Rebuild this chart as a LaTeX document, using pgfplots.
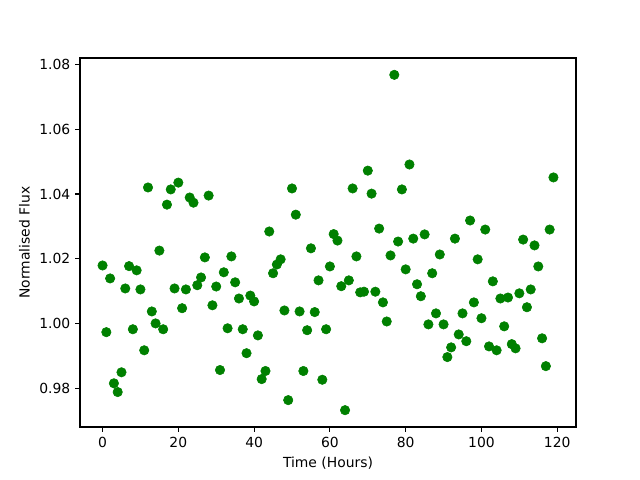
\documentclass[border=0pt]{standalone}
\usepackage{fontspec}
\setmainfont{DejaVu Sans}
\usepackage{pgfplots}
\pgfplotsset{compat=1.18}
\definecolor{mplgreen}{RGB}{0,128,0}
\begin{document}
\begin{tikzpicture}
\useasboundingbox (-57.6pt,-38.16pt) rectangle (403.2pt,307.44pt);
\begin{axis}[
  at={(0pt,0pt)}, anchor=south west,
  scale only axis, width=357.12pt, height=265.68pt,
  xmin=-5.95, xmax=124.95, ymin=0.968, ymax=1.082,
  xtick={0,20,40,60,80,100,120},
  ytick={0.98,1.00,1.02,1.04,1.06,1.08},
  yticklabel style={/pgf/number format/.cd,fixed,fixed zerofill,precision=2},
  /pgf/number format/assume math mode=true,
  tick align=outside, major tick length=3.5pt,
  xtick pos=bottom, ytick pos=left,
  axis line style={line width=0.8pt},
  every tick/.style={black, line width=0.8pt},
  tick label style={font=\fontsize{10pt}{12pt}\selectfont},
  label style={font=\fontsize{10pt}{12pt}\selectfont},
  xlabel={Time (Hours)}, ylabel={Normalised Flux},
  scaled y ticks=false,
]
\addplot[only marks, mark=*, mark size=3.4pt, mplgreen, mark options={draw=none, fill=mplgreen}] coordinates {
(0,1.0179) (1,0.9973) (2,1.0139) (3,0.9815) (4,0.9788) (5,0.9849) (6,1.0108) (7,1.0177) (8,0.9982) (9,1.0164)
(10,1.0105) (11,0.9917) (12,1.0420) (13,1.0037) (14,1.0000) (15,1.0225) (16,0.9982) (17,1.0367) (18,1.0414) (19,1.0108)
(20,1.0435) (21,1.0047) (22,1.0105) (23,1.0389) (24,1.0373) (25,1.0118) (26,1.0142) (27,1.0204) (28,1.0395) (29,1.0056)
(30,1.0114) (31,0.9856) (32,1.0158) (33,0.9985) (34,1.0207) (35,1.0127) (36,1.0077) (37,0.9982) (38,0.9908) (39,1.0086)
(40,1.0068) (41,0.9963) (42,0.9828) (43,0.9853) (44,1.0284) (45,1.0155) (46,1.0182) (47,1.0198) (48,1.0040) (49,0.9763)
(50,1.0417) (51,1.0336) (52,1.0037) (53,0.9853) (54,0.9979) (55,1.0232) (56,1.0035) (57,1.0133) (58,0.9826) (59,0.9982)
(60,1.0176) (61,1.0276) (62,1.0256) (63,1.0115) (64,0.9732) (65,1.0133) (66,1.0417) (67,1.0207) (68,1.0096) (69,1.0098)
(70,1.0472) (71,1.0401) (72,1.0098) (73,1.0293) (74,1.0065) (75,1.0006) (76,1.0210) (77,1.0768) (78,1.0253) (79,1.0414)
(80,1.0167) (81,1.0491) (82,1.0262) (83,1.0121) (84,1.0084) (85,1.0275) (86,0.9997) (87,1.0155) (88,1.0031) (89,1.0213)
(90,0.9997) (91,0.9896) (92,0.9926) (93,1.0262) (94,0.9966) (95,1.0031) (96,0.9945) (97,1.0318) (98,1.0065) (99,1.0198)
(100,1.0016) (101,1.0290) (102,0.9929) (103,1.0130) (104,0.9917) (105,1.0077) (106,0.9991) (107,1.0080) (108,0.9936) (109,0.9923)
(110,1.0093) (111,1.0259) (112,1.0050) (113,1.0105) (114,1.0241) (115,1.0176) (116,0.9954) (117,0.9868) (118,1.0290) (119,1.0451)
};
\end{axis}
\end{tikzpicture}
\end{document}
